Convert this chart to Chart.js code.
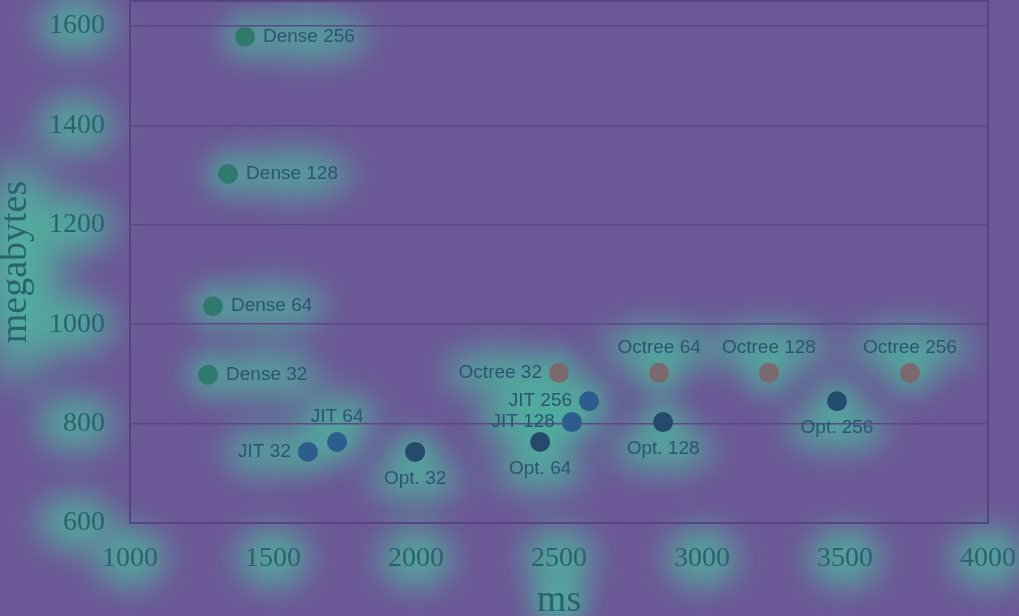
<!DOCTYPE html>
<html><head><meta charset="utf-8">
<style>html,body{margin:0;padding:0;background:#6c5897;}canvas{display:block}</style>
<script src="https://cdn.jsdelivr.net/npm/chart.js@4.4.1/dist/chart.umd.min.js"></script>
</head><body>
<canvas id="c" width="1019" height="616"></canvas>
<script>
// ---- data ----
const seriesNames = ['Dense', 'JIT', 'Opt.', 'Octree'];
const sizes = [32, 64, 128, 256];
const denseMs  = [1273, 1290, 1343, 1402];
const denseMb  = [898, 1036, 1302, 1578];
const jitMs    = [1622, 1724, 2545, 2605];
const jitMb    = [743, 763, 803, 845];
const optMs    = [1997, 2434, 2864, 3472];
const optMb    = [743, 763, 803, 845];
const octreeMs = [2500, 2850, 3234, 3727];
const octreeMb = [902, 902, 902, 902];
const xTicks = [1000, 1500, 2000, 2500, 3000, 3500, 4000];
const yTicks = [600, 800, 1000, 1200, 1400, 1600];
const xTitle = 'ms';
const yTitle = 'megabytes';

// ---- styles ----
const msAll = [denseMs, jitMs, optMs, octreeMs];
const mbAll = [denseMb, jitMb, optMb, octreeMb];
const seriesColors = ['#2f7a6c', '#2d5d8d', '#244a6c', '#7b6a6d'];
const labelSides = [
  ['right', 'right', 'right', 'right'],
  ['left', 'top', 'left', 'left'],
  ['bottom', 'bottom', 'bottom', 'bottom'],
  ['left', 'top', 'top', 'top']
];
const labelFont = '19px "Liberation Sans", Arial, sans-serif';
const labelColor = '#2c5574';
const tickColor = '#2a6370';
const serif = '"Liberation Serif", "Times New Roman", serif';

function labelPos(ctx, side, px, py, text) {
  ctx.font = labelFont;
  const w = ctx.measureText(text).width;
  if (side === 'right') return {x: px + 18, y: py, align: 'left', cx: px + 18 + w / 2, w};
  if (side === 'left') return {x: px - 17, y: py, align: 'right', cx: px - 17 - w / 2, w};
  if (side === 'top') return {x: px, y: py - 25, align: 'center', cx: px, w};
  return {x: px, y: py + 27, align: 'center', cx: px, w};
}

function glow(ctx, x, y, rx, ry, a, blur) {
  ctx.save();
  ctx.filter = 'blur(' + (blur || 16) + 'px)';
  ctx.fillStyle = 'rgba(74,196,160,' + a + ')';
  ctx.beginPath();
  ctx.ellipse(x, y, rx, ry, 0, 0, Math.PI * 2);
  ctx.fill();
  ctx.restore();
}

const bgPlugin = {
  id: 'bgGlow',
  beforeDraw(chart) {
    const ctx = chart.ctx;
    ctx.save();
    ctx.fillStyle = '#6c5897';
    ctx.fillRect(0, 0, chart.width, chart.height);
    const a = chart.chartArea;
    const xs = chart.scales.x, ys = chart.scales.y;
    // tick glows
    xTicks.forEach(v => glow(ctx, xs.getPixelForValue(v), 558, 36, 30, 0.7, 16));
    yTicks.forEach(v => glow(ctx, 76, ys.getPixelForValue(v), 38, 28, 0.7, 16));
    // axis title glows
    glow(ctx, 22, (a.top + a.bottom) / 2 + 8, 36, 110, 0.85, 22);
    glow(ctx, (a.left + a.right) / 2, 602, 28, 26, 0.75, 14);
    // label glows
    chart.data.datasets.forEach((ds, i) => {
      const meta = chart.getDatasetMeta(i);
      meta.data.forEach((el, j) => {
        const text = seriesNames[i] + ' ' + sizes[j];
        const p = labelPos(ctx, labelSides[i][j], el.x, el.y, text);
        glow(ctx, p.cx, p.y, p.w / 2 + 14, 24, 0.65, 16);
        glow(ctx, el.x, el.y, 22, 22, 0.6, 14);
      });
    });
    ctx.restore();
  },
  beforeDatasetsDraw(chart) {
    const ctx = chart.ctx, a = chart.chartArea;
    ctx.save();
    ctx.strokeStyle = '#574582';
    ctx.lineWidth = 2;
    ctx.beginPath();
    ctx.moveTo(a.left, a.top);
    ctx.lineTo(a.right, a.top);
    ctx.lineTo(a.right, a.bottom);
    ctx.stroke();
    ctx.restore();
  },
  afterDatasetsDraw(chart) {
    const ctx = chart.ctx;
    ctx.save();
    ctx.fillStyle = labelColor;
    ctx.textBaseline = 'middle';
    chart.data.datasets.forEach((ds, i) => {
      const meta = chart.getDatasetMeta(i);
      meta.data.forEach((el, j) => {
        const text = seriesNames[i] + ' ' + sizes[j];
        const p = labelPos(ctx, labelSides[i][j], el.x, el.y, text);
        ctx.font = labelFont;
        ctx.textAlign = p.align;
        ctx.fillText(text, p.x, p.y);
      });
    });
    ctx.restore();
  }
};

const datasets = seriesNames.map((n, i) => ({
  label: n,
  data: msAll[i].map((x, j) => ({x: x, y: mbAll[i][j]})),
  backgroundColor: seriesColors[i],
  borderWidth: 0,
  pointRadius: 10,
  pointHoverRadius: 10
}));

new Chart(document.getElementById('c'), {
  type: 'scatter',
  data: {datasets},
  plugins: [bgPlugin],
  options: {
    responsive: false,
    animation: false,
    devicePixelRatio: 1,
    layout: {autoPadding: false, padding: {top: 1, right: 31, left: 0, bottom: 0}},
    plugins: {legend: {display: false}, tooltip: {enabled: false}},
    scales: {
      x: {
        type: 'linear', min: 1000, max: 4000,
        afterBuildTicks: s => { s.ticks = xTicks.map(v => ({value: v})); },
        afterFit: s => { s.height = 93; s.paddingLeft = 0; s.paddingRight = 0; },
        grid: {display: false, drawTicks: false},
        border: {display: true, color: '#574582', width: 2},
        ticks: {font: {family: serif, size: 28}, color: tickColor, padding: 19, maxRotation: 0, autoSkip: false, callback: v => String(v)},
        title: {display: true, text: xTitle, color: tickColor, font: {family: serif, size: 38, lineHeight: 0.8}, padding: 0}
      },
      y: {
        type: 'linear', min: 600, max: 1650,
        afterBuildTicks: s => { s.ticks = yTicks.map(v => ({value: v})); },
        afterFit: s => { s.width = 130; s.paddingTop = 0; s.paddingBottom = 0; },
        grid: {color: '#5a4887', lineWidth: 1.5, drawTicks: false},
        border: {display: true, color: '#574582', width: 2},
        ticks: {font: {family: serif, size: 28}, color: tickColor, padding: 25, autoSkip: false, callback: v => String(v)},
        title: {display: true, text: yTitle, color: tickColor, font: {family: serif, size: 38, lineHeight: 0.8}, padding: {top: 1, bottom: 0}}
      }
    }
  }
});
</script>
</body></html>
